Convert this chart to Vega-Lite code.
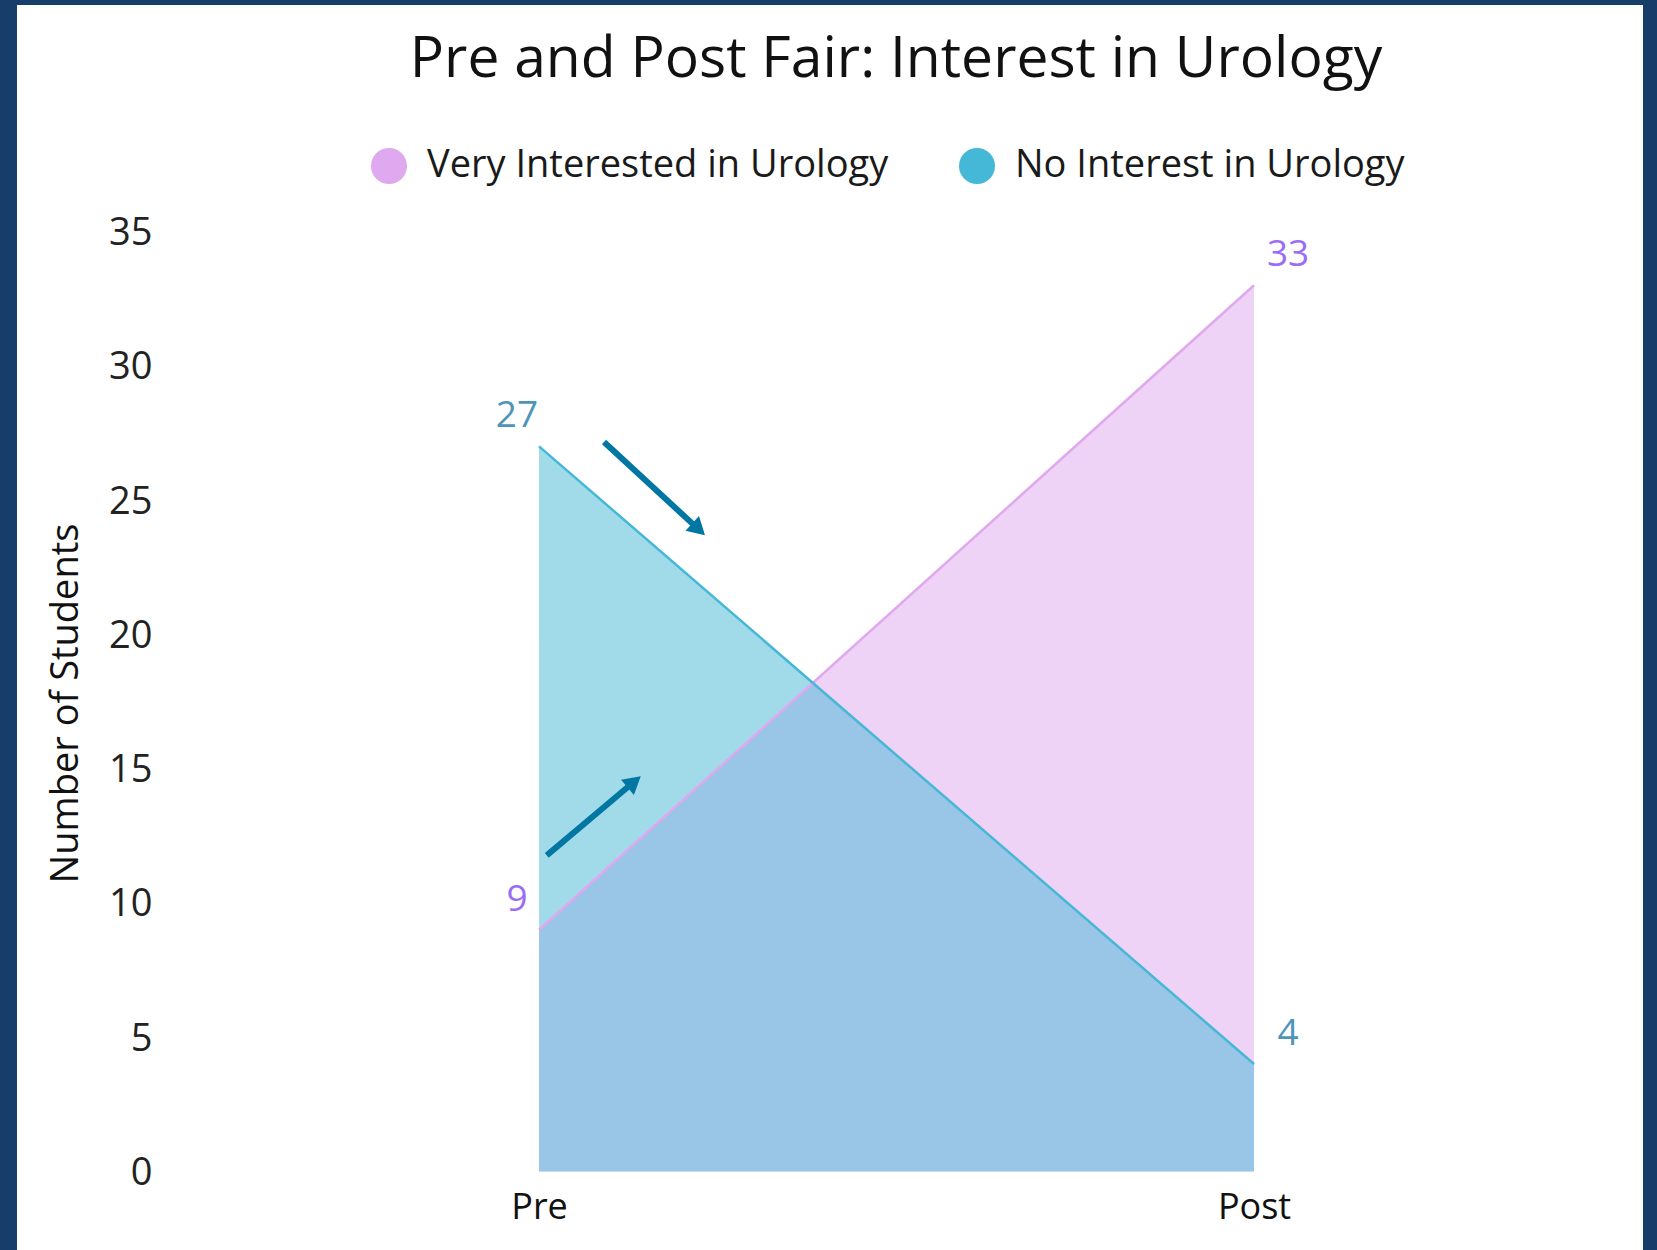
{
  "$schema": "https://vega.github.io/schema/vega-lite/v6.json",
  "autosize": "none",
  "width": 1626,
  "height": 1245,
  "padding": {"left": 17, "top": 5, "right": 14, "bottom": 0},
  "background": "#173d6a",
  "config": {
    "view": {"fill": "white", "stroke": null},
    "font": "Open Sans"
  },
  "title": {
    "text": "Pre and Post Fair: Interest in Urology",
    "fontSize": 57,
    "font": "Open Sans",
    "fontWeight": "normal",
    "color": "#111111",
    "anchor": "middle",
    "frame": "group",
    "dx": 66,
    "offset": -84
  },
  "datasets": {
    "series": [
      {"stage": "Pre", "step": 0, "count": 9, "group": "Very Interested in Urology"},
      {"stage": "Post", "step": 1, "count": 33, "group": "Very Interested in Urology"},
      {"stage": "Pre", "step": 0, "count": 27, "group": "No Interest in Urology"},
      {"stage": "Post", "step": 1, "count": 4, "group": "No Interest in Urology"}
    ],
    "arrows": [
      {"arrow": "down", "step": 0.0909, "count": 27.16, "step2": 0.2232, "count2": 23.91},
      {"arrow": "up", "step": 0.0108, "count": 11.77, "step2": 0.133, "count2": 14.51}
    ]
  },
  "layer": [
    {
      "data": {"name": "series"},
      "transform": [{"filter": "datum.group === 'Very Interested in Urology'"}],
      "mark": {"type": "area", "opacity": 0.5},
      "encoding": {
        "x": {"field": "step", "type": "quantitative", "scale": {"domain": [-0.7301, 1.544], "nice": false, "zero": false},
          "axis": {"values": [0, 1], "labelExpr": "datum.value === 0 ? 'Pre' : 'Post'", "title": null, "domain": false, "ticks": false, "tickSize": 0, "grid": false, "labelFontSize": 36, "labelFont": "Open Sans", "labelColor": "#111111", "labelPadding": 0, "labelBaseline": "middle", "labelFlush": false, "offset": -43}},
        "y": {"field": "count", "type": "quantitative", "scale": {"domain": [-2.923, 43.433], "nice": false, "zero": false},
          "axis": {"values": [0, 5, 10, 15, 20, 25, 30, 35], "title": "Number of Students", "titleFontSize": 38, "titleFont": "Open Sans", "titleFontWeight": "normal", "titleColor": "#111111", "titleX": -86, "titleY": 698, "titleAngle": -90, "titleAlign": "center", "titleBaseline": "middle", "labelFontSize": 38, "labelFont": "Open Sans", "labelColor": "#222222", "labelPadding": 0, "labelOffset": 2, "tickSize": 0, "ticks": false, "domain": false, "grid": false, "offset": -135}},
        "y2": {"datum": 0},
        "color": {"field": "group", "type": "nominal",
          "scale": {"domain": ["Very Interested in Urology", "No Interest in Urology"], "range": ["#e0a8ee", "#44b8d6"]},
          "legend": {"orient": "none", "legendX": 353, "legendY": 142, "direction": "horizontal", "title": null, "symbolType": "circle", "symbolSize": 1296, "symbolOpacity": 1, "symbolStrokeWidth": 0, "labelFontSize": 38, "labelFont": "Open Sans", "labelColor": "#1a1a1a", "labelOffset": 19, "columnPadding": 69, "labelLimit": 0, "padding": 0,
            "encode": {"symbols": {"update": {"opacity": {"value": 1}, "fillOpacity": {"value": 1}}}}}}
      }
    },
    {
      "data": {"name": "series"},
      "transform": [{"filter": "datum.group === 'No Interest in Urology'"}],
      "mark": {"type": "area", "opacity": 0.5},
      "encoding": {
        "x": {"field": "step", "type": "quantitative", "scale": {"domain": [-0.7301, 1.544], "nice": false, "zero": false}},
        "y": {"field": "count", "type": "quantitative", "scale": {"domain": [-2.923, 43.433], "nice": false, "zero": false}},
        "y2": {"datum": 0},
        "color": {"field": "group", "type": "nominal",
          "scale": {"domain": ["Very Interested in Urology", "No Interest in Urology"], "range": ["#e0a8ee", "#44b8d6"]}}
      }
    },
    {
      "data": {"name": "series"},
      "mark": {"type": "line", "strokeWidth": 2.5},
      "encoding": {
        "x": {"field": "step", "type": "quantitative", "scale": {"domain": [-0.7301, 1.544], "nice": false, "zero": false}},
        "y": {"field": "count", "type": "quantitative", "scale": {"domain": [-2.923, 43.433], "nice": false, "zero": false}},
        "color": {"field": "group", "type": "nominal",
          "scale": {"domain": ["Very Interested in Urology", "No Interest in Urology"], "range": ["#e0a8ee", "#44b8d6"]}, "legend": null}
      }
    },
    {
      "data": {"name": "series"},
      "transform": [{"filter": "datum.stage === 'Pre'"}],
      "mark": {"type": "text", "fontSize": 37, "font": "Open Sans", "align": "center", "baseline": "middle", "dx": -22, "dy": -30},
      "encoding": {
        "x": {"field": "step", "type": "quantitative", "scale": {"domain": [-0.7301, 1.544], "nice": false, "zero": false}},
        "y": {"field": "count", "type": "quantitative", "scale": {"domain": [-2.923, 43.433], "nice": false, "zero": false}},
        "text": {"field": "count", "type": "quantitative"},
        "color": {"condition": {"test": "datum.group === 'Very Interested in Urology'", "value": "#9b6cf6"}, "value": "#4f95b9"}
      }
    },
    {
      "data": {"name": "series"},
      "transform": [{"filter": "datum.stage === 'Post'"}],
      "mark": {"type": "text", "fontSize": 37, "font": "Open Sans", "align": "center", "baseline": "middle", "dx": 34, "dy": -30},
      "encoding": {
        "x": {"field": "step", "type": "quantitative", "scale": {"domain": [-0.7301, 1.544], "nice": false, "zero": false}},
        "y": {"field": "count", "type": "quantitative", "scale": {"domain": [-2.923, 43.433], "nice": false, "zero": false}},
        "text": {"field": "count", "type": "quantitative"},
        "color": {"condition": {"test": "datum.group === 'Very Interested in Urology'", "value": "#9b6cf6"}, "value": "#4f95b9"}
      }
    },
    {
      "data": {"name": "arrows"},
      "mark": {"type": "rule", "color": "#0077a3", "strokeWidth": 6, "strokeCap": "butt"},
      "encoding": {
        "x": {"field": "step", "type": "quantitative", "scale": {"domain": [-0.7301, 1.544], "nice": false, "zero": false}},
        "y": {"field": "count", "type": "quantitative", "scale": {"domain": [-2.923, 43.433], "nice": false, "zero": false}},
        "x2": {"field": "step2"},
        "y2": {"field": "count2"}
      }
    },
    {
      "data": {"name": "arrows"},
      "transform": [{"filter": "datum.arrow === 'down'"}],
      "mark": {"type": "point", "shape": "triangle-up", "filled": true, "color": "#0077a3", "opacity": 1, "size": 400, "angle": 132.6, "strokeWidth": 0},
      "encoding": {
        "x": {"field": "step2", "type": "quantitative", "scale": {"domain": [-0.7301, 1.544], "nice": false, "zero": false}},
        "y": {"field": "count2", "type": "quantitative", "scale": {"domain": [-2.923, 43.433], "nice": false, "zero": false}}
      }
    },
    {
      "data": {"name": "arrows"},
      "transform": [{"filter": "datum.arrow === 'up'"}],
      "mark": {"type": "point", "shape": "triangle-up", "filled": true, "color": "#0077a3", "opacity": 1, "size": 400, "angle": 50, "strokeWidth": 0},
      "encoding": {
        "x": {"field": "step2", "type": "quantitative", "scale": {"domain": [-0.7301, 1.544], "nice": false, "zero": false}},
        "y": {"field": "count2", "type": "quantitative", "scale": {"domain": [-2.923, 43.433], "nice": false, "zero": false}}
      }
    }
  ]
}
